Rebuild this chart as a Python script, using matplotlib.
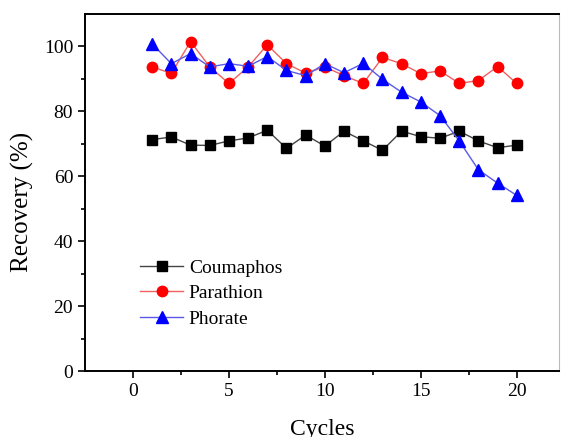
import numpy as np
import matplotlib.pyplot as plt

plt.rcParams['font.family'] = ['Liberation Serif', 'DejaVu Serif']

cycles = np.arange(1, 21)
coumaphos = [71.3, 72.1, 69.6, 69.5, 70.9, 71.8, 74.2, 68.6, 72.7, 69.3,
             73.9, 70.9, 68.0, 73.9, 72.2, 71.7, 73.9, 70.9, 68.8, 69.6]
parathion = [93.7, 91.7, 101.5, 93.7, 88.6, 93.7, 100.5, 94.7, 91.8, 93.7,
             91.0, 88.6, 96.6, 94.7, 91.6, 92.5, 88.6, 89.5, 93.8, 88.6]
phorate = [100.8, 94.7, 97.8, 93.7, 94.7, 93.9, 96.9, 92.6, 91.0, 94.7,
           91.9, 94.8, 89.9, 85.9, 82.9, 78.7, 70.9, 62.0, 57.9, 54.1]

fig = plt.figure(figsize=(5.64, 4.37), dpi=100)
ax = fig.add_axes([85/564, 1-371/437, 474/564, 357/437])

ax.plot(cycles, coumaphos, color='#444444', lw=1.0, marker='s', ms=6.5,
        mfc='black', mec='black', label='Coumaphos')
ax.plot(cycles, parathion, color='#f06060', lw=1.0, marker='o', ms=7.5,
        mfc='#ff0000', mec='#ff0000', label='Parathion')
ax.plot(cycles, phorate, color='#5a5ae6', lw=1.0, marker='^', ms=8,
        mfc='#0000ff', mec='#0000ff', label='Phorate')

ax.set_xlim(-2.5, 22.2)
ax.set_ylim(0, 110)
ax.set_xticks([0, 5, 10, 15, 20])
ax.set_xticks([2.5, 7.5, 12.5, 17.5], minor=True)
ax.set_yticks([0, 20, 40, 60, 80, 100])
ax.set_yticks([10, 30, 50, 70, 90], minor=True)
ax.tick_params(which='major', direction='out', length=5, width=1.2, labelsize=14)
ax.tick_params(which='minor', direction='out', length=3, width=1.2)

for s in ['left', 'bottom', 'top']:
    ax.spines[s].set_linewidth(1.4)
ax.spines['right'].set_color('#bbbbbb')
ax.spines['right'].set_linewidth(0.8)

ax.set_xlabel('Cycles', fontsize=17, va='baseline')
ax.xaxis.set_label_coords(0.5, -0.179)
ax.set_ylabel('Recovery (%)', fontsize=18, va='center')
ax.yaxis.set_label_coords(-0.133, 0.473)

ax.legend(loc='upper left', bbox_to_anchor=(0.1, 0.335), frameon=False,
          fontsize=14, handlelength=2.2, handletextpad=0.3, labelspacing=0.4,
          borderaxespad=0)

fig.savefig('out.png', dpi=100)
